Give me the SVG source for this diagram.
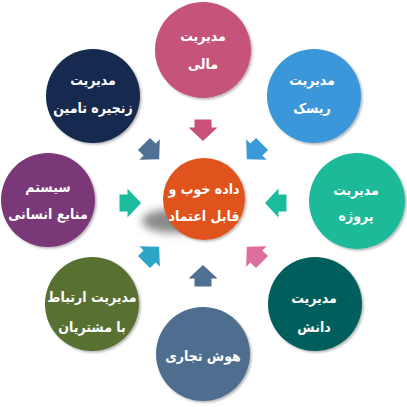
<svg xmlns="http://www.w3.org/2000/svg" width="407" height="407" viewBox="0 0 407 407">
<defs>
<filter id="sh" x="-20%" y="-20%" width="140%" height="140%"><feDropShadow dx="1.5" dy="1.5" stdDeviation="1" flood-color="#000" flood-opacity="0.3"/></filter>
<filter id="blur" x="-50%" y="-50%" width="200%" height="200%"><feGaussianBlur stdDeviation="4"/></filter>
<path id="arr" d="M0,0 L-14.5,-13.5 L-8.5,-13.5 L-8.5,-21.5 L8.5,-21.5 L8.5,-13.5 L14.5,-13.5 Z"/>
</defs>
<style>
text{font-family:"DejaVu Sans Condensed","DejaVu Sans",sans-serif;font-weight:bold;font-size:14px;fill:#fff;text-anchor:middle}
circle{filter:url(#sh)}
</style>
<rect width="407" height="407" fill="#fff"/>
<g id="connectors">
<use href="#arr" fill="#C8507A" transform="translate(203,203) rotate(0) translate(0,-62)"/>
<use href="#arr" fill="#3A9AD9" transform="translate(203,203) rotate(45) translate(0,-62)"/>
<use href="#arr" fill="#1ABC9C" transform="translate(203,203) rotate(90) translate(0,-62)"/>
<use href="#arr" fill="#DE6E9A" transform="translate(203,203) rotate(135) translate(0,-62)"/>
<use href="#arr" fill="#4F6F93" transform="translate(203,203) rotate(180) translate(0,-62)"/>
<use href="#arr" fill="#2DA5C6" transform="translate(203,203) rotate(225) translate(0,-62)"/>
<use href="#arr" fill="#1ABC9C" transform="translate(203,203) rotate(270) translate(0,-62)"/>
<use href="#arr" fill="#4F6F93" transform="translate(203,203) rotate(315) translate(0,-62)"/>
</g>
<g id="center">
<ellipse cx="173" cy="221" rx="31" ry="12" fill="#8a8a8a" filter="url(#blur)"/>
<circle cx="204" cy="199" r="41" fill="#E1531F"/>
<text x="204" y="194">داده خوب و</text>
<text x="204" y="221">قابل اعتماد</text>
</g>
<g id="n-mali">
<circle cx="203" cy="50" r="48" fill="#C5527A"/>
<text x="203" y="41">مدیریت</text>
<text x="203" y="69">مالی</text>
</g>
<g id="n-risk">
<circle cx="314" cy="96" r="47" fill="#3B97D9"/>
<text x="312" y="85">مدیریت</text>
<text x="312" y="113">ریسک</text>
</g>
<g id="n-project">
<circle cx="357" cy="201" r="48" fill="#1DBA99"/>
<text x="356" y="195">مدیریت</text>
<text x="356" y="221">پروژه</text>
</g>
<g id="n-danesh">
<circle cx="315" cy="304" r="47" fill="#005F5B"/>
<text x="314" y="303">مدیریت</text>
<text x="314" y="332">دانش</text>
</g>
<g id="n-hoosh">
<circle cx="203" cy="354" r="47" fill="#4F6D8E"/>
<text x="203" y="361">هوش تجاری</text>
</g>
<g id="n-crm">
<circle cx="92" cy="304" r="47" fill="#596F31"/>
<text x="92" y="302">مدیریت ارتباط</text>
<text x="92" y="332">با مشتریان</text>
</g>
<g id="n-hr">
<circle cx="48" cy="200" r="47" fill="#7A3878"/>
<text x="48" y="192">سیستم</text>
<text x="48" y="219">منابع انسانی</text>
</g>
<g id="n-scm">
<circle cx="93" cy="96" r="47" fill="#14294F"/>
<text x="93" y="85">مدیریت</text>
<text x="93" y="113">زنجیره تامین</text>
</g>
</svg>
